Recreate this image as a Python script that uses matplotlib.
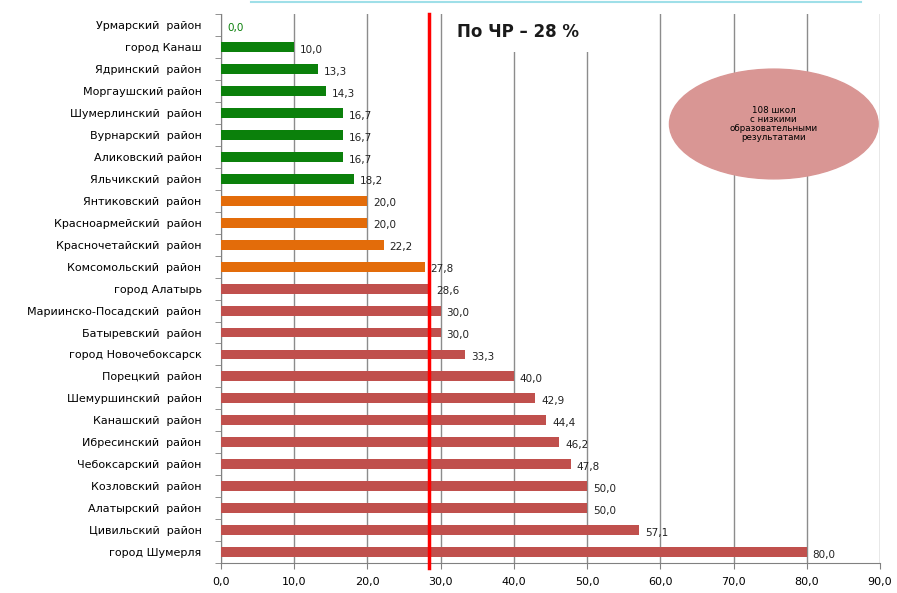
import matplotlib

matplotlib.use("Agg")
import matplotlib.pyplot as plt
from matplotlib.lines import Line2D
from matplotlib.patches import Ellipse
from matplotlib.ticker import FixedLocator

districts = [
    "Урмарский  район", "город Канаш", "Ядринский  район", "Моргаушский район",
    "Шумерлинский  район", "Вурнарский  район", "Аликовский район", "Яльчикский  район",
    "Янтиковский  район", "Красноармейский  район", "Красночетайский  район",
    "Комсомольский  район", "город Алатырь", "Мариинско-Посадский  район",
    "Батыревский  район", "город Новочебоксарск", "Порецкий  район",
    "Шемуршинский  район", "Канашский  район", "Ибресинский  район",
    "Чебоксарский  район", "Козловский  район", "Алатырский  район",
    "Цивильский  район", "город Шумерля",
]
shares = [0.0, 10.0, 13.3, 14.3, 16.7, 16.7, 16.7, 18.2, 20.0, 20.0, 22.2, 27.8,
          28.6, 30.0, 30.0, 33.3, 40.0, 42.9, 44.4, 46.2, 47.8, 50.0, 50.0, 57.1, 80.0]
groups = ["low"] * 8 + ["mid"] * 4 + ["high"] * 13
region_avg = 28.4
x_ticks = [0, 10, 20, 30, 40, 50, 60, 70, 80, 90]

C_LOW, C_MID, C_HIGH = "#0b800b", "#e36c0a", "#c0504d"
colors = {"low": C_LOW, "mid": C_MID, "high": C_HIGH}

plt.rcParams.update({"font.family": "DejaVu Sans", "font.size": 8})

fig = plt.figure(figsize=(8.97, 5.93), dpi=100)
ax = fig.add_axes([0.2464, 0.0506, 0.7346, 0.9254])

y = list(range(len(districts)))
ax.barh(y, shares, height=0.45, color=[colors[g] for g in groups], zorder=3)
for i, v in zip(y, shares):
    txt = f"{v:.1f}".replace(".", ",")
    ax.text(v + 0.8, i + 0.12, txt, va="center", ha="left", fontsize=7.5,
            color=C_LOW if v == 0 else "#222222", zorder=4)

ax.set_xlim(0, 90)
ax.set_ylim(len(districts) - 0.5, -0.5)
ax.set_xticks(x_ticks)
ax.set_xticklabels([f"{t:.1f}".replace(".", ",") for t in x_ticks])
ax.set_yticks(y)
ax.set_yticklabels(districts)
ax.yaxis.set_minor_locator(FixedLocator([i - 0.5 for i in range(len(districts) + 1)]))
ax.tick_params(axis="y", which="major", length=0, pad=14)
ax.tick_params(axis="y", which="minor", length=4, color="#808080")
ax.tick_params(axis="x", length=4, color="#808080", pad=6)

ax.grid(axis="x", color="#8c8c8c", lw=1.0, zorder=0)
for s in ("top", "right"):
    ax.spines[s].set_visible(False)
ax.spines["left"].set_color("#808080")
ax.spines["bottom"].set_color("#808080")

ax.axvline(region_avg, ymin=-0.01, ymax=1.0, color="#ff0000", lw=2.5, zorder=5, clip_on=False)
ax.text(32.2, 0.3, "По ЧР – 28 %", fontsize=12, fontweight="bold", color="#1a1a1a",
        va="center", ha="left", zorder=6,
        bbox=dict(facecolor="white", edgecolor="none", pad=8))

ell = Ellipse((75.5, 4.5), 28.5, 5.0, facecolor="#d99694", edgecolor="#d99694", zorder=6)
ax.add_patch(ell)
ax.text(75.5, 4.5, "108 школ\nс низкими\nобразовательными\nрезультатами",
        fontsize=6.3, ha="center", va="center", linespacing=1.0, zorder=7)

fig.add_artist(Line2D([0.28, 0.96], [0.997, 0.997], color="#9fdfe8", lw=1.5))

fig.savefig("out.png", dpi=100)
